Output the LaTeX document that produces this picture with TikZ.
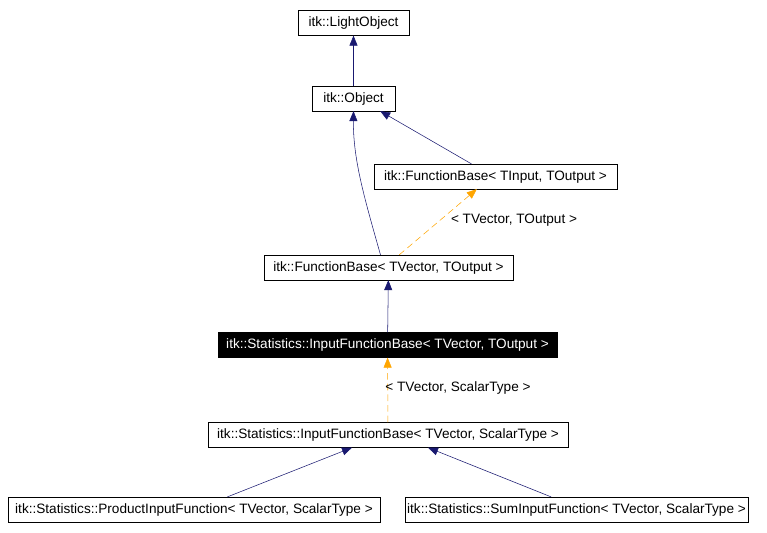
\documentclass[tikz,border=0pt]{standalone}
\usepackage{fontspec}
\setmainfont{Liberation Sans}
\usetikzlibrary{arrows.meta}
\definecolor{dorange}{RGB}{255,165,0}
\definecolor{dnavy}{RGB}{25,25,112}
\begin{document}
\begin{tikzpicture}[x=0.75pt,y=-0.75pt,
  box/.style={draw=black,fill=white,minimum height=18.5pt,inner sep=0pt,font=\fontsize{10.2}{12}\selectfont},
  inh/.style={draw=dnavy,-{Triangle[width=6pt,length=7.5pt]}},
  tpl/.style={draw=dorange,dash pattern=on 5pt off 3pt,-{Triangle[width=6pt,length=7.5pt]}},
  lbl/.style={font=\fontsize{10.2}{12}\selectfont}]
\useasboundingbox (0,0) rectangle (767,532);
\node[box,minimum width=83.25pt] (lo) at (353.5,23) {itk::LightObject};
\node[box,minimum width=62.25pt] (ob) at (353.5,98.5) {itk::Object};
\node[box,minimum width=182.25pt] (fbi) at (495.5,176.5) {itk::FunctionBase< TInput, TOutput >};
\node[box,minimum width=186.75pt] (fbv) at (388.5,267.5) {itk::FunctionBase< TVector, TOutput >};
\node[box,minimum width=254.25pt,fill=black,text=white] (ifb) at (387.5,345) {itk::Statistics::InputFunctionBase< TVector, TOutput >};
\node[box,minimum width=270pt] (ifs) at (388,435) {itk::Statistics::InputFunctionBase< TVector, ScalarType >};
\node[box,minimum width=279pt] (pr) at (194,509.5) {itk::Statistics::ProductInputFunction< TVector, ScalarType >};
\node[box,minimum width=257.25pt] (su) at (576.5,509.5) {itk::Statistics::SumInputFunction< TVector, ScalarType >};
\draw[inh] (ob) -- (lo);
\draw[inh] ([xshift=-18pt]fbi.north) -- ([xshift=20pt]ob.south);
\draw[inh] ([xshift=-6pt]fbv.north) .. controls (365,200) and (353,160) .. (ob.south);
\draw[tpl] ([xshift=8pt]fbv.north) -- ([xshift=-14pt]fbi.south);
\node[lbl] (l1) at (514,220) {< TVector, TOutput >};
\draw[inh] (ifb) -- (fbv);
\draw[tpl] (ifs) -- (ifb);
\node[lbl] (l2) at (458,388) {< TVector, ScalarType >};
\draw[inh] ([xshift=25pt]pr.north) -- ([xshift=-27pt]ifs.south);
\draw[inh] ([xshift=-19pt]su.north) -- ([xshift=30pt]ifs.south);
\end{tikzpicture}
\end{document}
